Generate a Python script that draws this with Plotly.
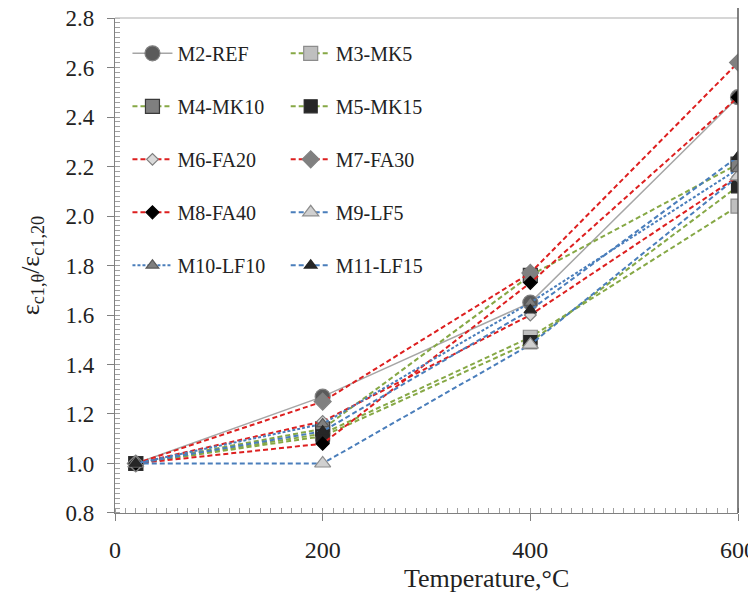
import plotly.graph_objects as go

temps = [20, 200, 400, 600]
series_names = ["M2-REF", "M3-MK5", "M4-MK10", "M5-MK15", "M6-FA20",
                "M7-FA30", "M8-FA40", "M9-LF5", "M10-LF10", "M11-LF15"]
m2_ref = [1.0, 1.27, 1.65, 2.48]
m3_mk5 = [1.0, 1.12, 1.51, 2.04]
m4_mk10 = [1.0, 1.14, 1.76, 2.21]
m5_mk15 = [1.0, 1.11, 1.49, 2.12]
m6_fa20 = [1.0, 1.17, 1.60, 2.16]
m7_fa30 = [1.0, 1.25, 1.77, 2.62]
m8_fa40 = [1.0, 1.08, 1.73, 2.48]
m9_lf5 = [1.0, 1.00, 1.48, 2.16]
m10_lf10 = [1.0, 1.16, 1.65, 2.19]
m11_lf15 = [1.0, 1.13, 1.62, 2.24]
x_ticks = [0, 200, 400, 600]
y_ticks = [0.8, 1.0, 1.2, 1.4, 1.6, 1.8, 2.0, 2.2, 2.4, 2.6, 2.8]

values = [m2_ref, m3_mk5, m4_mk10, m5_mk15, m6_fa20,
          m7_fa30, m8_fa40, m9_lf5, m10_lf10, m11_lf15]

GRAY = "#a6a6a6"
GREEN = "#86a845"
RED = "#dd1f1f"
BLUE = "#4a7ebb"
DASH = "5px,3px"

styles = [
    dict(lc=GRAY, dash="solid", sym="circle", size=15, fill="#5a5a5a", edge="#808080"),
    dict(lc=GREEN, dash=DASH, sym="square", size=14, fill="#bfbfbf", edge="#8c8c8c"),
    dict(lc=GREEN, dash=DASH, sym="square", size=14, fill="#7f7f7f", edge="#3a3a3a"),
    dict(lc=GREEN, dash=DASH, sym="square", size=13, fill="#262626", edge="#262626"),
    dict(lc=RED, dash=DASH, sym="diamond", size=9, fill="#d9d9d9", edge="#7f7f7f"),
    dict(lc=RED, dash=DASH, sym="diamond", size=13, fill="#808080", edge="#808080"),
    dict(lc=RED, dash=DASH, sym="diamond", size=10, fill="#000000", edge="#000000"),
    dict(lc=BLUE, dash=DASH, sym="triangle-up", size=14, fill="#d0d0d0", edge="#8c8c8c"),
    dict(lc=BLUE, dash="3px,2px", sym="triangle-up", size=11, fill="#7f7f7f", edge="#595959"),
    dict(lc=BLUE, dash=DASH, sym="triangle-up", size=11, fill="#262626", edge="#262626"),
]

FONT = "Liberation Serif"
fig = go.Figure()
for i, (name, vals, st) in enumerate(zip(series_names, values, styles)):
    fig.add_trace(go.Scatter(
        x=temps, y=vals, name=name, mode="lines+markers",
        legend="legend" if i % 2 == 0 else "legend2",
        legendgroup=name,
        line=dict(color=st["lc"], width=2 if st["dash"] != "solid" else 1.5, dash=st["dash"]),
        marker=dict(symbol=st["sym"], size=st["size"], color=st["fill"],
                    line=dict(color=st["edge"], width=1.2)),
    ))

leg_common = dict(
    orientation="v", bgcolor="rgba(0,0,0,0)", borderwidth=0,
    font=dict(family=FONT, size=20, color="#222222"),
    itemwidth=40, tracegroupgap=24, yanchor="top", xanchor="left",
)

fig.update_layout(
    width=748, height=585,
    margin=dict(l=107, r=18, t=10, b=80),
    paper_bgcolor="white", plot_bgcolor="white",
    font=dict(family=FONT, size=20, color="#222222"),
    showlegend=True,
    legend=dict(x=0.02, y=0.968, **leg_common),
    legend2=dict(x=0.274, y=0.968, **leg_common),
    xaxis=dict(
        range=[0, 600], tickvals=x_ticks, ticks="outside", ticklen=7,
        tickcolor="#808080", linecolor="#808080", linewidth=1.2,
        showgrid=False, zeroline=False, mirror=False, automargin=False,
        ticklabelstandoff=8, ticklabeloverflow="allow",
        minor=dict(dtick=10, ticks="inside", ticklen=5, tickcolor="#a0a0a0"),
        tickfont=dict(family=FONT, size=24),
    ),
    yaxis=dict(
        range=[0.7999, 2.8001], tickvals=y_ticks, ticktext=[f"{v:.1f}" for v in y_ticks],
        ticks="outside", ticklen=7, automargin=False,
        ticklabelstandoff=8, ticklabeloverflow="allow",
        tickcolor="#808080", linecolor="#808080", linewidth=1.2,
        showgrid=False, zeroline=False,
        minor=dict(dtick=0.02, ticks="inside", ticklen=5, tickcolor="#a0a0a0"),
        title=dict(text="ε<sub>c1,θ</sub>/ε<sub>c1,20</sub>", font=dict(family=FONT, size=26), standoff=18),
        tickfont=dict(family=FONT, size=23),
    ),
    annotations=[
        dict(text="Temperature,°C", xref="paper", yref="paper", x=0.596, y=-0.132,
             xanchor="center", yanchor="middle", showarrow=False,
             font=dict(family=FONT, size=26, color="#222222")),
    ],
    shapes=[
        dict(type="line", xref="paper", yref="paper", x0=0, x1=1, y0=1, y1=1,
             line=dict(color="#c8c8c8", width=1.5)),
        dict(type="line", xref="paper", yref="paper", x0=1, x1=1, y0=0, y1=1.04,
             line=dict(color="#595959", width=1.5)),
    ],
)

fig.write_html("out.html")
